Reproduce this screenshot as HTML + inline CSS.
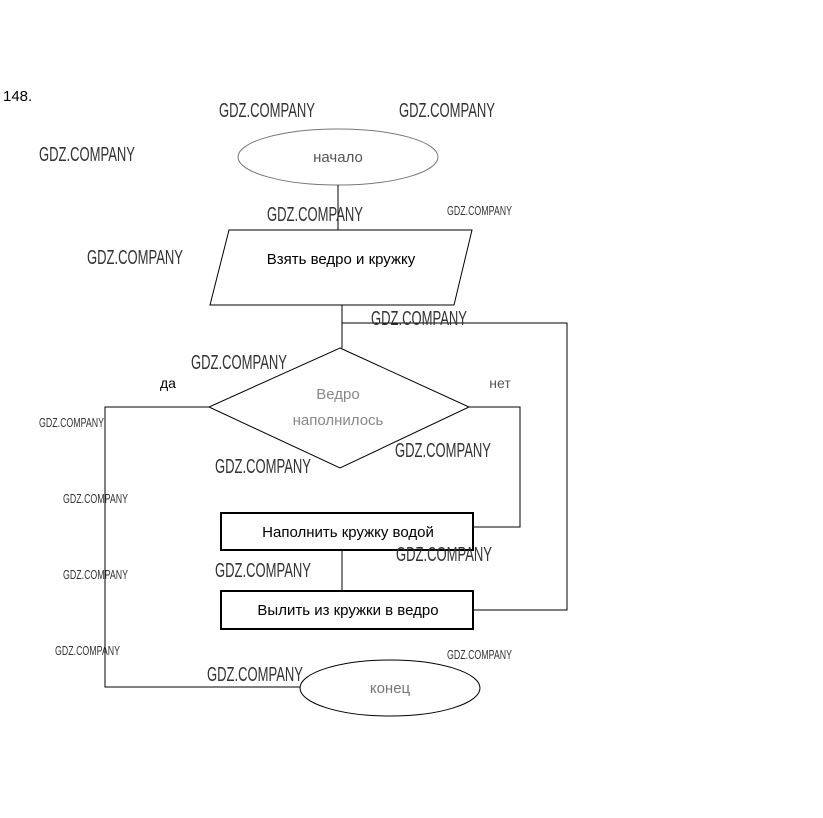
<!DOCTYPE html>
<html><head><meta charset="utf-8"><style>
body{margin:0;background:#fff;}
svg{display:block;}
.w{font-family:"Liberation Sans Narrow","Liberation Sans",sans-serif;fill:#333;}
</style></head><body>
<svg width="823" height="818" viewBox="0 0 823 818" xmlns="http://www.w3.org/2000/svg" font-family="Liberation Sans, DejaVu Sans, sans-serif">
<text x="3" y="101" font-size="15" fill="#000">148.</text>
<g fill="none" stroke="#000" stroke-width="1">
<ellipse cx="338" cy="157" rx="100" ry="28" stroke="#777"/>
<line x1="338" y1="185" x2="338" y2="230"/>
<polygon points="229,230 472,230 454,305 210,305"/>
<polyline points="342,305 342,348"/>
<polyline points="342,323 567,323 567,610 473,610"/>
<polygon points="340,348 469,407 340,468 209,407"/>
<polyline points="209,407 105,407 105,687 300,687"/>
<polyline points="469,407 520,407 520,527 473,527"/>
<rect x="221" y="513" width="252" height="37" stroke-width="2"/>
<line x1="342" y1="550" x2="342" y2="591"/>
<rect x="221" y="591" width="252" height="38" stroke-width="2"/>
<ellipse cx="390" cy="688" rx="90" ry="28"/>
</g>
<g text-anchor="middle" font-size="15">
<text x="338" y="162" fill="#555">начало</text>
<text x="341" y="264" fill="#000">Взять ведро и кружку</text>
<text x="338" y="399" fill="#888">Ведро</text>
<text x="338" y="425" fill="#888">наполнилось</text>
<text x="348" y="537" fill="#000">Наполнить кружку водой</text>
<text x="348" y="615" fill="#000">Вылить из кружки в ведро</text>
<text x="390" y="693" fill="#777">конец</text>
<text x="168" y="388" fill="#000" font-size="14">да</text>
<text x="500" y="388" fill="#555" font-size="14">нет</text>
</g>
<g class="w" font-size="20">
<text x="219" y="117" textLength="96" lengthAdjust="spacingAndGlyphs">GDZ.COMPANY</text>
<text x="399" y="117" textLength="96" lengthAdjust="spacingAndGlyphs">GDZ.COMPANY</text>
<text x="39" y="161" textLength="96" lengthAdjust="spacingAndGlyphs">GDZ.COMPANY</text>
<text x="267" y="221" textLength="96" lengthAdjust="spacingAndGlyphs">GDZ.COMPANY</text>
<text x="87" y="264" textLength="96" lengthAdjust="spacingAndGlyphs">GDZ.COMPANY</text>
<text x="371" y="325" textLength="96" lengthAdjust="spacingAndGlyphs">GDZ.COMPANY</text>
<text x="191" y="369" textLength="96" lengthAdjust="spacingAndGlyphs">GDZ.COMPANY</text>
<text x="395" y="457" textLength="96" lengthAdjust="spacingAndGlyphs">GDZ.COMPANY</text>
<text x="215" y="473" textLength="96" lengthAdjust="spacingAndGlyphs">GDZ.COMPANY</text>
<text x="396" y="561" textLength="96" lengthAdjust="spacingAndGlyphs">GDZ.COMPANY</text>
<text x="215" y="577" textLength="96" lengthAdjust="spacingAndGlyphs">GDZ.COMPANY</text>
<text x="207" y="681" textLength="96" lengthAdjust="spacingAndGlyphs">GDZ.COMPANY</text>
</g>
<g class="w" font-size="13">
<text x="447" y="215" textLength="65" lengthAdjust="spacingAndGlyphs">GDZ.COMPANY</text>
<text x="39" y="427" textLength="65" lengthAdjust="spacingAndGlyphs">GDZ.COMPANY</text>
<text x="63" y="503" textLength="65" lengthAdjust="spacingAndGlyphs">GDZ.COMPANY</text>
<text x="63" y="579" textLength="65" lengthAdjust="spacingAndGlyphs">GDZ.COMPANY</text>
<text x="55" y="655" textLength="65" lengthAdjust="spacingAndGlyphs">GDZ.COMPANY</text>
<text x="447" y="659" textLength="65" lengthAdjust="spacingAndGlyphs">GDZ.COMPANY</text>
</g>
</svg>
</body></html>
